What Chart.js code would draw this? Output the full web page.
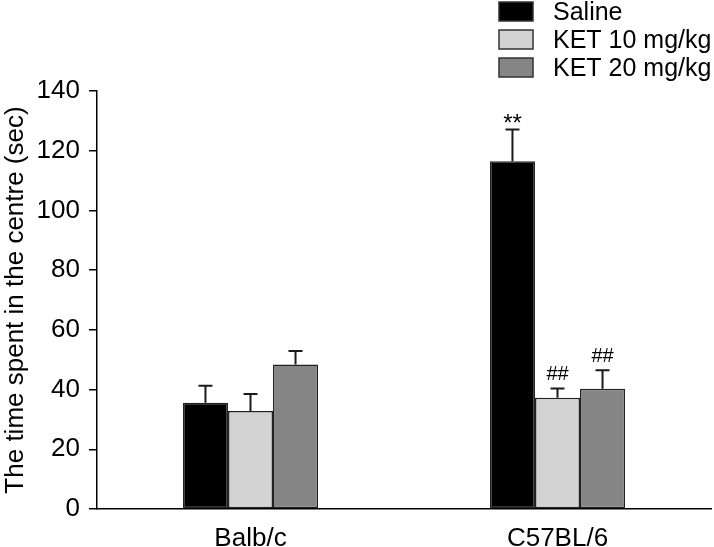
<!DOCTYPE html>
<html>
<head>
<meta charset="utf-8">
<script src="https://cdn.jsdelivr.net/npm/chart.js@4/dist/chart.umd.min.js"></script>
<style>
  body { margin: 0; background: #fff; }
  canvas { display: block; }
</style>
</head>
<body>
<canvas id="chart" width="714" height="547"></canvas>
<script>
// values
const categories = ['Balb/c', 'C57BL/6'];
const seriesNames = ['Saline', 'KET 10 mg/kg', 'KET 20 mg/kg'];
const salineMean = [35.6, 116.5];
const salineErr = [5.7, 10.6];
const ket10Mean = [32.8, 37.3];
const ket10Err = [5.7, 3.1];
const ket20Mean = [48.4, 40.3];
const ket20Err = [4.5, 6.2];
const salineMarks = ['', '**'];
const ket10Marks = ['', '##'];
const ket20Marks = ['', '##'];
const yMax = 140;
const yStep = 20;

const fills = ['#000000', '#d3d3d3', '#858585'];
const fontFam = '"Liberation Sans", Arial, sans-serif';

const errors = [salineErr, ket10Err, ket20Err];
const marks = [salineMarks, ket10Marks, ket20Marks];

// upper error bars + significance marks
const errorBarPlugin = {
  id: 'errorBars',
  afterDatasetsDraw(chart) {
    const ctx = chart.ctx;
    const y = chart.scales.y;
    ctx.save();
    ctx.strokeStyle = '#1a1a1a';
    ctx.lineWidth = 2;
    chart.data.datasets.forEach((ds, di) => {
      const meta = chart.getDatasetMeta(di);
      meta.data.forEach((bar, i) => {
        const top = y.getPixelForValue(ds.data[i]);
        const capY = y.getPixelForValue(ds.data[i] + errors[di][i]);
        ctx.beginPath();
        ctx.moveTo(bar.x, top);
        ctx.lineTo(bar.x, capY);
        ctx.moveTo(bar.x - 7, capY);
        ctx.lineTo(bar.x + 7, capY);
        ctx.stroke();
        const m = marks[di][i];
        if (m) {
          ctx.fillStyle = '#000';
          ctx.textAlign = 'center';
          ctx.textBaseline = 'alphabetic';
          if (m === '**') {
            ctx.font = '24px ' + fontFam;
            ctx.fillText(m, bar.x, capY + 1);
          } else {
            ctx.font = '20px ' + fontFam;
            ctx.fillText(m, bar.x, capY - 8);
          }
        }
      });
    });
    ctx.restore();
  }
};

// legend in the top right corner
const legendPlugin = {
  id: 'cornerLegend',
  afterDraw(chart) {
    const ctx = chart.ctx;
    ctx.save();
    chart.data.datasets.forEach((ds, i) => {
      const top = 2 + i * 28;
      ctx.fillStyle = ds.backgroundColor;
      ctx.fillRect(499, top, 34, 19);
      ctx.strokeStyle = '#333';
      ctx.lineWidth = 1.5;
      ctx.strokeRect(499, top, 34, 19);
      ctx.fillStyle = '#000';
      ctx.font = '25px ' + fontFam;
      ctx.textAlign = 'left';
      ctx.textBaseline = 'middle';
      ctx.fillText(ds.label, 553, top + 11);
    });
    ctx.restore();
  }
};

const means = [salineMean, ket10Mean, ket20Mean];

new Chart(document.getElementById('chart'), {
  type: 'bar',
  data: {
    labels: categories,
    datasets: seriesNames.map((name, i) => ({
      label: name,
      data: means[i],
      backgroundColor: fills[i],
      borderColor: '#222',
      borderWidth: 1.5,
      borderSkipped: false,
      categoryPercentage: 0.44,
      barPercentage: 1.0
    }))
  },
  options: {
    responsive: false,
    animation: false,
    layout: { padding: { top: 91, right: 3, left: 0, bottom: 0 } },
    plugins: {
      legend: { display: false },
      tooltip: { enabled: false }
    },
    scales: {
      x: {
        grid: { display: false },
        border: { display: true, color: '#000', width: 1.5 },
        ticks: { color: '#000', font: { size: 26, family: fontFam }, padding: 6 },
        afterFit(s) { s.height = 38; }
      },
      y: {
        min: 0,
        max: yMax,
        ticks: { stepSize: yStep, color: '#000', font: { size: 26, family: fontFam }, padding: 9 },
        grid: { drawOnChartArea: false, drawTicks: true, tickLength: 8, color: '#000', lineWidth: 1.5 },
        border: { display: true, color: '#000', width: 1.5 },
        title: {
          display: true,
          text: 'The time spent in the centre (sec)',
          color: '#000',
          font: { size: 26, family: fontFam },
          padding: 0
        },
        afterFit(s) { s.width = 97; }
      }
    }
  },
  plugins: [errorBarPlugin, legendPlugin]
});
</script>
</body>
</html>
